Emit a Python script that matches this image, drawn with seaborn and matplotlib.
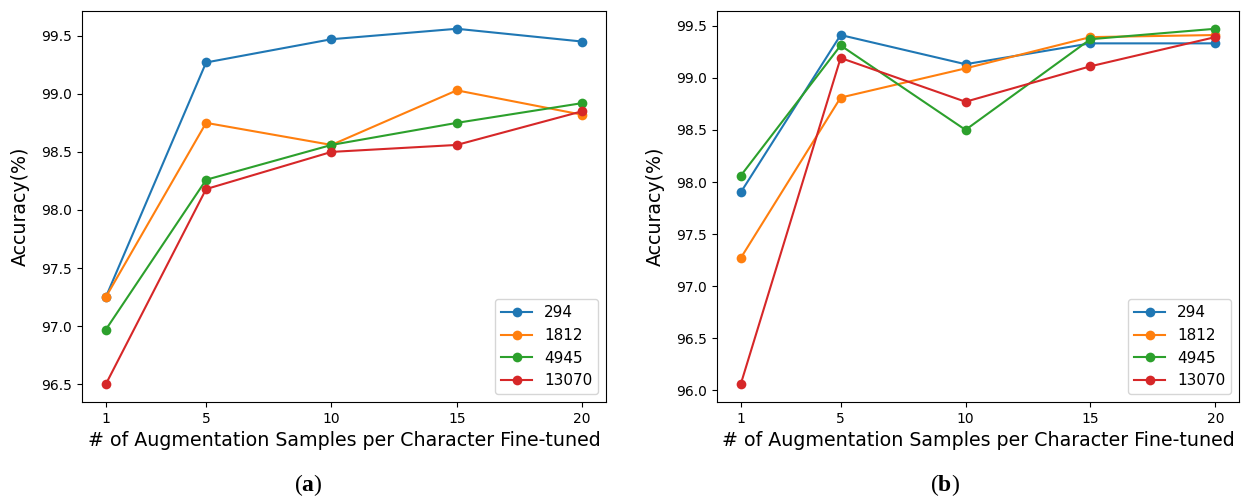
import pandas as pd
import matplotlib.pyplot as plt
import seaborn as sns

# x values: augmentation samples per character
samples = [1, 5, 10, 15, 20]
series_names = ['294', '1812', '4945', '13070']

# panel (a)
acc_a_294 = [97.25, 99.27, 99.47, 99.56, 99.45]
acc_a_1812 = [97.25, 98.75, 98.56, 99.03, 98.82]
acc_a_4945 = [96.97, 98.26, 98.56, 98.75, 98.92]
acc_a_13070 = [96.50, 98.18, 98.50, 98.56, 98.85]

# panel (b)
acc_b_294 = [97.90, 99.41, 99.13, 99.33, 99.33]
acc_b_1812 = [97.27, 98.81, 99.09, 99.39, 99.41]
acc_b_4945 = [98.06, 99.31, 98.50, 99.37, 99.47]
acc_b_13070 = [96.06, 99.19, 98.77, 99.11, 99.39]

colors = ['#1f77b4', '#ff7f0e', '#2ca02c', '#d62728']

# plain matplotlib look, serif bold letters for the panel tags
plt.rcParams['mathtext.fontset'] = 'custom'
plt.rcParams['mathtext.rm'] = 'Liberation Serif'
plt.rcParams['mathtext.bf'] = 'Liberation Serif:bold'

fig = plt.figure(figsize=(12.41, 4.98), dpi=100)
ax_a = fig.add_axes([82 / 1241, 96 / 498, 524 / 1241, 391 / 498])
ax_b = fig.add_axes([717 / 1241, 96 / 498, 522 / 1241, 391 / 498])

panels = [
    (ax_a, [acc_a_294, acc_a_1812, acc_a_4945, acc_a_13070], r'($\mathbf{a}$)', 308),
    (ax_b, [acc_b_294, acc_b_1812, acc_b_4945, acc_b_13070], r'($\mathbf{b}$)', 945),
]

for ax, values, tag, tag_x in panels:
    for name, vals, c in zip(series_names, values, colors):
        df = pd.DataFrame({'samples': samples, 'acc': vals})
        sns.lineplot(data=df, x='samples', y='acc', ax=ax, color=c,
                     marker='o', markersize=7, markeredgewidth=0,
                     linewidth=1.5, label=name)
    ax.set_xticks(samples)
    ax.tick_params(labelsize=10)
    ax.set_xlabel('# of Augmentation Samples per Character Fine-tuned', fontsize=13.7)
    ax.set_ylabel('Accuracy(%)', fontsize=13.7, labelpad=8)
    ax.legend(loc='lower right', fontsize=11)
    fig.text(tag_x / 1241, 1 - 485 / 498, tag, fontsize=17,
             family='Liberation Serif', ha='center', va='center')

fig.savefig('out.png', dpi=100)
